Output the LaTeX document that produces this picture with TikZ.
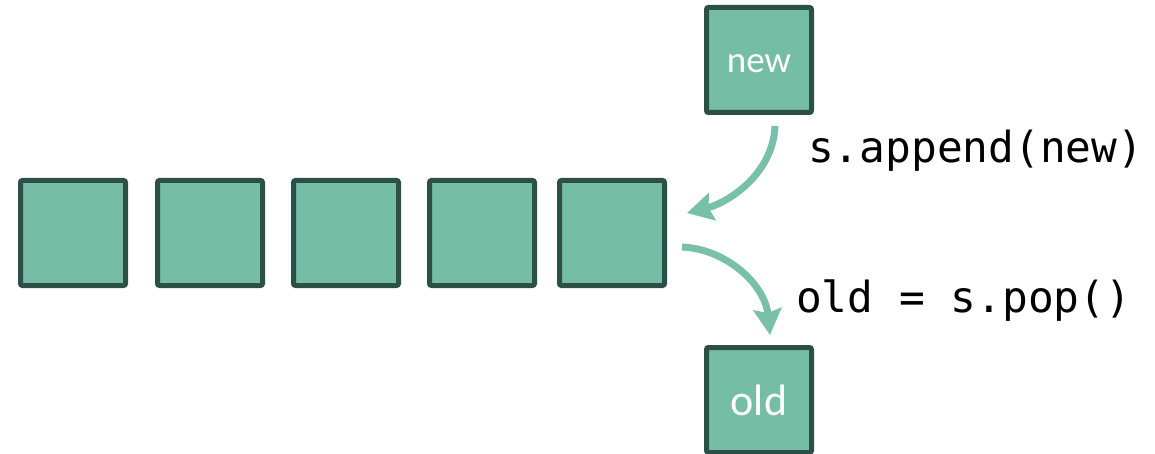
\documentclass[tikz,border=0pt]{standalone}
\usepackage{fontspec}
\setmainfont{Carlito}
\newfontfamily\codefont{DejaVu Sans Mono}
\usepackage{xcolor}
\usetikzlibrary{calc}
\usetikzlibrary{arrows.meta}

\definecolor{boxfill}{HTML}{76BDA6}
\definecolor{boxline}{HTML}{2D5046}
\definecolor{arrowcol}{HTML}{78C0A8}

\begin{document}
\begin{tikzpicture}
[x=1pt,y=-1pt,
 item/.style={draw=boxline,fill=boxfill,line width=5pt,rounded corners=2pt,
   minimum size=105pt,inner sep=0pt,text=white},
 move/.style={draw=arrowcol,line width=7pt,
   -{Triangle[length=26pt,width=28pt,inset=4pt]}},
 code/.style={anchor=base west,inner sep=0pt,font=\codefont\fontsize{42.8}{48}\selectfont}]

\useasboundingbox (0,0) rectangle (1155,454);

% the stack
\foreach \i/\x in {1/73,2/210,3/346,4/482,5/612}
  \node[item] (s\i) at (\x,233) {};

\node[item,font=\fontsize{37}{40}\selectfont,text height=26pt,text depth=0pt] (new) at (759,60) {new};
\node[item,font=\fontsize{44}{48}\selectfont] (old) at (759,400) {old};

% push
\draw[move] ($(new.south)+(16,11)$) .. controls ($(new.south)+(14,60)$) and ($(s5.east)+(60,-30)$) .. ($(s5.east)+(20,-20)$);
\node[code] (push) at (808,163) {s.append(new)};

% pop
\draw[move] ($(s5.east)+(15,14)$) .. controls ($(s5.east)+(60,16)$) and ($(old.north)+(6,-60)$) .. ($(old.north)+(11,-10)$);
\node[code] (pop) at (796,312) {old = s.pop()};

\end{tikzpicture}
\end{document}
